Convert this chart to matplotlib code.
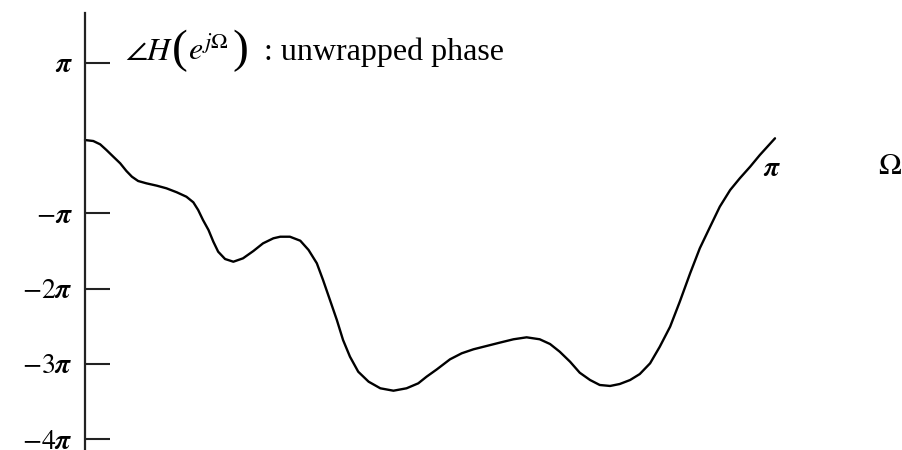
import numpy as np
import matplotlib
matplotlib.use("Agg")
import matplotlib.pyplot as plt

plt.rcParams["mathtext.fontset"] = "stix"
plt.rcParams["font.family"] = ["Liberation Serif", "DejaVu Serif"]

# Frequency Omega (in units of pi)
omega_over_pi = [0.000, 0.012, 0.022, 0.031, 0.041, 0.051, 0.060, 0.068, 0.077,
                 0.089, 0.104, 0.118, 0.133, 0.147, 0.157, 0.164, 0.171, 0.179,
                 0.186, 0.193, 0.203, 0.215, 0.229, 0.244, 0.258, 0.273, 0.283,
                 0.297, 0.312, 0.324, 0.336, 0.345, 0.355, 0.365, 0.374, 0.384,
                 0.396, 0.411, 0.428, 0.447, 0.466, 0.483, 0.495, 0.510, 0.529,
                 0.546, 0.563, 0.582, 0.601, 0.621, 0.640, 0.659, 0.674, 0.688,
                 0.703, 0.717, 0.732, 0.746, 0.761, 0.775, 0.790, 0.804, 0.819,
                 0.833, 0.848, 0.862, 0.877, 0.891, 0.906, 0.920, 0.935, 0.949,
                 0.964, 0.978, 1.000]
# Unwrapped phase of H(e^{j Omega}) (in units of pi)
phase_over_pi = [-0.027, -0.040, -0.084, -0.159, -0.248, -0.336, -0.438, -0.514, -0.571,
                 -0.602, -0.633, -0.668, -0.721, -0.780, -0.854, -0.956, -1.089, -1.222,
                 -1.377, -1.510, -1.607, -1.643, -1.598, -1.501, -1.399, -1.332, -1.311,
                 -1.311, -1.364, -1.487, -1.664, -1.886, -2.151, -2.417, -2.683, -2.904,
                 -3.104, -3.236, -3.324, -3.356, -3.324, -3.258, -3.170, -3.072, -2.939,
                 -2.859, -2.806, -2.762, -2.718, -2.673, -2.647, -2.673, -2.736, -2.838,
                 -2.971, -3.117, -3.214, -3.280, -3.293, -3.267, -3.214, -3.135, -2.992,
                 -2.772, -2.506, -2.174, -1.797, -1.465, -1.178, -0.912, -0.691, -0.535,
                 -0.381, -0.226, -0.004]

ytick_vals = [1, -1, -2, -3, -4]
ytick_labels = [r"$\boldsymbol{\pi}$", r"$-\boldsymbol{\pi}$", r"$-2\boldsymbol{\pi}$",
                r"$-3\boldsymbol{\pi}$", r"$-4\boldsymbol{\pi}$"]

W, H = 903, 450
x0_px, xpi_px = 85, 775          # pixel columns of Omega = 0 and Omega = pi
y0_px, ypi_px = 138.0, 75.3      # pixel row of zero phase and pixels per pi

fig = plt.figure(figsize=(W / 100, H / 100), dpi=100)
ax = fig.add_axes([0, 0, 1, 1])
ax.patch.set_alpha(0)

sx = (xpi_px - x0_px) / np.pi
ax.set_xlim(-x0_px / sx, (W - x0_px) / sx)
ax.set_ylim((y0_px - H) / ypi_px * np.pi, y0_px / ypi_px * np.pi)

x = np.array(omega_over_pi) * np.pi
y = np.array(phase_over_pi) * np.pi
ax.plot(x, y, color="black", lw=1.7, solid_capstyle="round", solid_joinstyle="round")

for s in ["top", "right", "bottom"]:
    ax.spines[s].set_visible(False)
ax.spines["left"].set_position(("data", 0))
ax.spines["left"].set_linewidth(1.6)
ax.spines["left"].set_color("#222222")
ax.spines["left"].set_bounds(ax.get_ylim()[0], (y0_px - 13) / ypi_px * np.pi)

ax.set_xticks([])
ax.set_yticks(np.array(ytick_vals) * np.pi)
ax.set_yticklabels(ytick_labels, fontsize=20)
ax.tick_params(axis="y", direction="in", length=18, width=1.5, color="#222222", pad=9)


def label(px, py, s, **kw):
    fig.text(px / W, 1 - py / H, s, **kw)


# Axis caption: angle of H(e^{j Omega}) with tall parentheses
base = 60
label(125, base, r"$\angle H$", fontsize=23, va="baseline", ha="left")
label(180, 51, "(", fontsize=34, va="center", ha="center")
label(188, base, r"$e^{j\Omega}$", fontsize=23, va="baseline", ha="left")
label(240, 51, ")", fontsize=34, va="center", ha="center")
label(264, base, ": unwrapped phase", fontsize=23, va="baseline", ha="left")

label(772, 170, r"$\boldsymbol{\pi}$", fontsize=20, va="center", ha="center")
label(890, 167, r"$\Omega$", fontsize=22, va="center", ha="center")

fig.savefig("out.png", dpi=100)
